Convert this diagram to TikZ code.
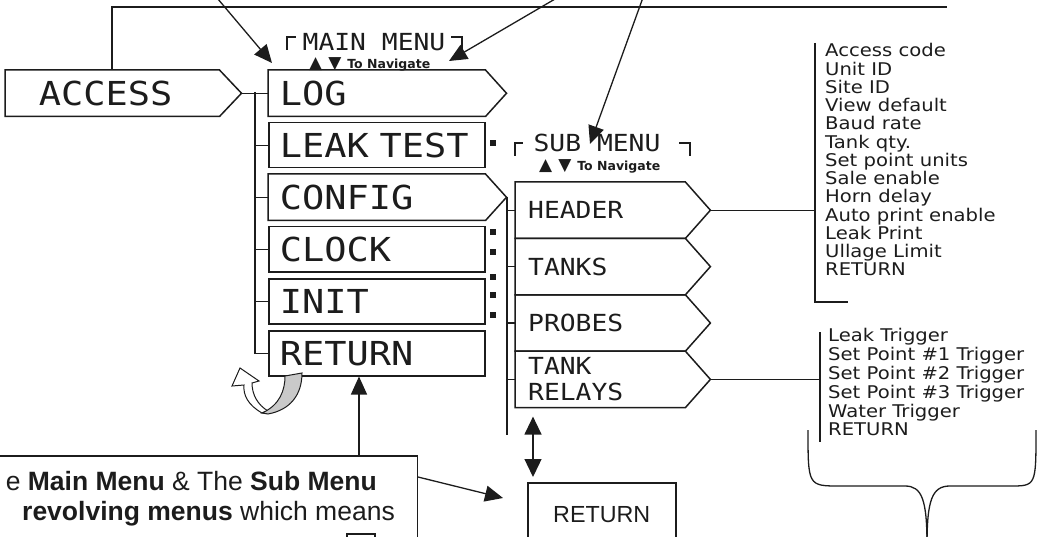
\documentclass[tikz,border=0pt]{standalone}
\usepackage{fontspec}
\setmainfont{Liberation Sans}
\newfontfamily\cadfont[FakeStretch=1.12]{DejaVu Sans Mono}
\newfontfamily\listfont[FakeStretch=1.12]{DejaVu Sans}
\newfontfamily\navfont{DejaVu Sans}
\usepackage{xcolor}
\usepackage{tikz}
\usetikzlibrary{positioning,arrows.meta,calc}
\definecolor{ink}{HTML}{1C1C1C}
\definecolor{band}{HTML}{C9C9C9}

\begin{document}
\begin{tikzpicture}[x=1pt,y=-1pt,
  wire/.style={draw=ink,line width=1.3pt},
  mainbox/.style={draw=ink,line width=1.5pt,fill=white,anchor=north west,minimum height=45pt,text width=194pt,inner xsep=11pt,inner ysep=0pt,align=left,text=ink,font=\cadfont\fontsize{33}{33}\selectfont},
  maintip/.style={mainbox,draw=none},
  subtip/.style={anchor=north west,minimum height=56pt,text width=144pt,inner xsep=13pt,inner ysep=0pt,align=left,text=ink,font=\cadfont\fontsize{23.5}{26}\selectfont},
  titletext/.style={font=\cadfont\fontsize{23.5}{23.5}\selectfont,text=ink,inner sep=0pt},
  navtext/.style={font=\navfont\bfseries\fontsize{12.5}{12.5}\selectfont,text=ink,inner sep=0pt,anchor=west},
  listtext/.style={font=\listfont\fontsize{17.5}{18.25}\selectfont,text=ink,align=left,inner sep=0pt,anchor=north west},
  notetext/.style={font=\fontsize{26.5}{30}\selectfont,text=ink,inner sep=0pt,text height=19pt,text depth=5.5pt,anchor=east},
  arrowline/.style={wire,-{Triangle[length=18pt,width=16pt]}}]
  \useasboundingbox (0,0) rectangle (1040,537);
  \clip (0,0) rectangle (1040,537);

  \node[maintip,text width=147pt,inner xsep=33pt] (access) at (5,70) {ACCESS};
  \node[maintip] (log) at (268,70) {LOG};
  \node[mainbox,below=5.5pt of log] (leak) {LEAK TEST};
  \node[maintip,below=5.5pt of leak] (config) {CONFIG};
  \node[mainbox,below=5.5pt of config] (clock) {CLOCK};
  \node[mainbox,below=5.5pt of clock] (init) {INIT};
  \node[mainbox,below=5.5pt of init] (ret) {RETURN};

  \node[subtip] (header) at (515,182) {HEADER};
  \node[subtip,below=0pt of header] (tanks) {TANKS};
  \node[subtip,below=0pt of tanks] (probes) {PROBES};
  \node[subtip,below=0pt of probes] (relays) {TANK\\RELAYS};

  \foreach \n/\t in {access/22,log/21,config/21,header/25,tanks/25,probes/25,relays/25}
    \draw[wire,line width=1.5pt] (\n.north west) -- (\n.north east) -- ([xshift=\t pt]\n.east) -- (\n.south east) -- (\n.south west) -- cycle;

  \node[titletext] (mtitle) at (374,42) {MAIN MENU};
  \node[navtext] (mnav) at (309,64) {{\fontsize{17}{17}\selectfont▲\hspace{6pt}▼}\hspace{6pt}To Navigate};
  \node[titletext] (stitle) at (597,143) {SUB MENU};
  \node[navtext] (snav) at (539,166) {{\fontsize{17}{17}\selectfont▲\hspace{6pt}▼}\hspace{6pt}To Navigate};
  \draw[wire] (287,50) |- (296,37);
  \draw[wire] (451,37) -| (462,50);
  \draw[wire] (515,156) |- (523,143);
  \draw[wire] (679,143) -| (690,156);

  \foreach \y in {143,232,252,277,295,315}
    \fill[ink] (490,\y-3) rectangle (496,\y+3);

  \coordinate (atip) at ([xshift=22pt]access.east);
  \coordinate (ctip) at ([xshift=21pt]config.east);
  \coordinate (htip) at ([xshift=25pt]header.east);
  \coordinate (rtip) at ([xshift=25pt]relays.east);
  \coordinate (mbus) at (255,92.5);
  \coordinate (sbus) at (507,435);
  \coordinate (topend) at (947,7);
  \draw[wire,line width=1.6pt] (access.north) |- (topend);
  \draw[wire] (atip) -- (log.west);
  \draw[wire] (mbus) |- (ret.west);
  \foreach \n in {leak,config,clock,init}
    \draw[wire] (mbus |- \n.west) -- (\n.west);
  \draw[wire] (ctip) -| (sbus);
  \foreach \n in {header,tanks,probes,relays}
    \draw[wire] (sbus |- \n.west) -- (\n.west);

  \node[listtext] (cfglist) at (825,43.5) {Access code\\Unit ID\\Site ID\\View default\\Baud rate\\Tank qty.\\Set point units\\Sale enable\\Horn delay\\Auto print enable\\Leak Print\\Ullage Limit\\RETURN};
  \node[listtext,font=\listfont\fontsize{17.5}{18.8}\selectfont] (rlylist) at (828,328.5) {Leak Trigger\\Set Point \#1 Trigger\\Set Point \#2 Trigger\\Set Point \#3 Trigger\\Water Trigger\\RETURN};
  \coordinate (bar1) at (815,43);
  \coordinate (bar2) at (820,332);
  \draw[wire] (bar1) -- ++(0,259) -- ++(33,0);
  \draw[wire] (htip) -- (htip -| bar1);
  \draw[wire] (bar2) -- ++(0,110);
  \draw[wire] (rtip) -- (rtip -| bar2);
  \draw[wire] (808,430) .. controls (808,486) .. (840,486) -- (905,486) .. controls (922,486) and (927,500) .. (927,545);
  \draw[wire] (927,545) .. controls (927,500) and (932,486) .. (950,486) -- (1010,486) .. controls (1036,486) .. (1036,430);

  \node[draw=ink,line width=1.5pt,anchor=north west,minimum width=148pt,minimum height=63pt,text=ink,font=\fontsize{23.3}{23.3}\selectfont] (sret) at (527,482) {RETURN};
  \node[draw=ink,line width=1.5pt,anchor=north east,minimum width=440pt,minimum height=95pt] (note) at (418,455) {};
  \node[notetext] (line1) at (377,484) {e \textbf{Main Menu} \& The \textbf{Sub Menu}};
  \node[notetext] (line2) at (395,514) {\textbf{revolving menus} which means};
  \draw[line width=2pt,draw=ink] (347,540) |- (375,534) -- (375,540);

  \coordinate (up1) at ([xshift=-59pt]note.north east);
  \draw[arrowline] (up1) -- (up1 |- ret.south);
  \draw[arrowline] ([yshift=-22pt]note.north east) -- ([shift={(-24pt,-16pt)}]sret.north west);
  \draw[wire,{Triangle[length=18pt,width=17pt]}-{Triangle[length=18pt,width=17pt]}] ([shift={(18pt,-9pt)}]relays.south west) -- ([shift={(6pt,5pt)}]sret.north west);

  \coordinate (src1) at (212,-8);
  \coordinate (src2) at (567,-8);
  \coordinate (src3) at (645,-8);
  \coordinate (tip2) at (449,61);
  \coordinate (tip3) at (590,144);
  \draw[arrowline] (src1) -- ([shift={(4pt,7pt)}]log.north west);
  \draw[arrowline] (src2) -- (tip2);
  \draw[arrowline] (src3) -- (tip3);

  \draw[draw=ink,line width=1pt,fill=white] (262,413) .. controls (248,405) and (243,395) .. (244,385) -- (232,386) -- (240,368) -- (259,381) -- (252,383) .. controls (252,395) and (258,405) .. (268,411) -- cycle;
  \draw[draw=ink,line width=1pt,fill=band] (262,413) .. controls (280,405) and (285,390) .. (285,376) -- (302,373) .. controls (302,395) and (290,410) .. (268,414) -- cycle;
\end{tikzpicture}
\end{document}
